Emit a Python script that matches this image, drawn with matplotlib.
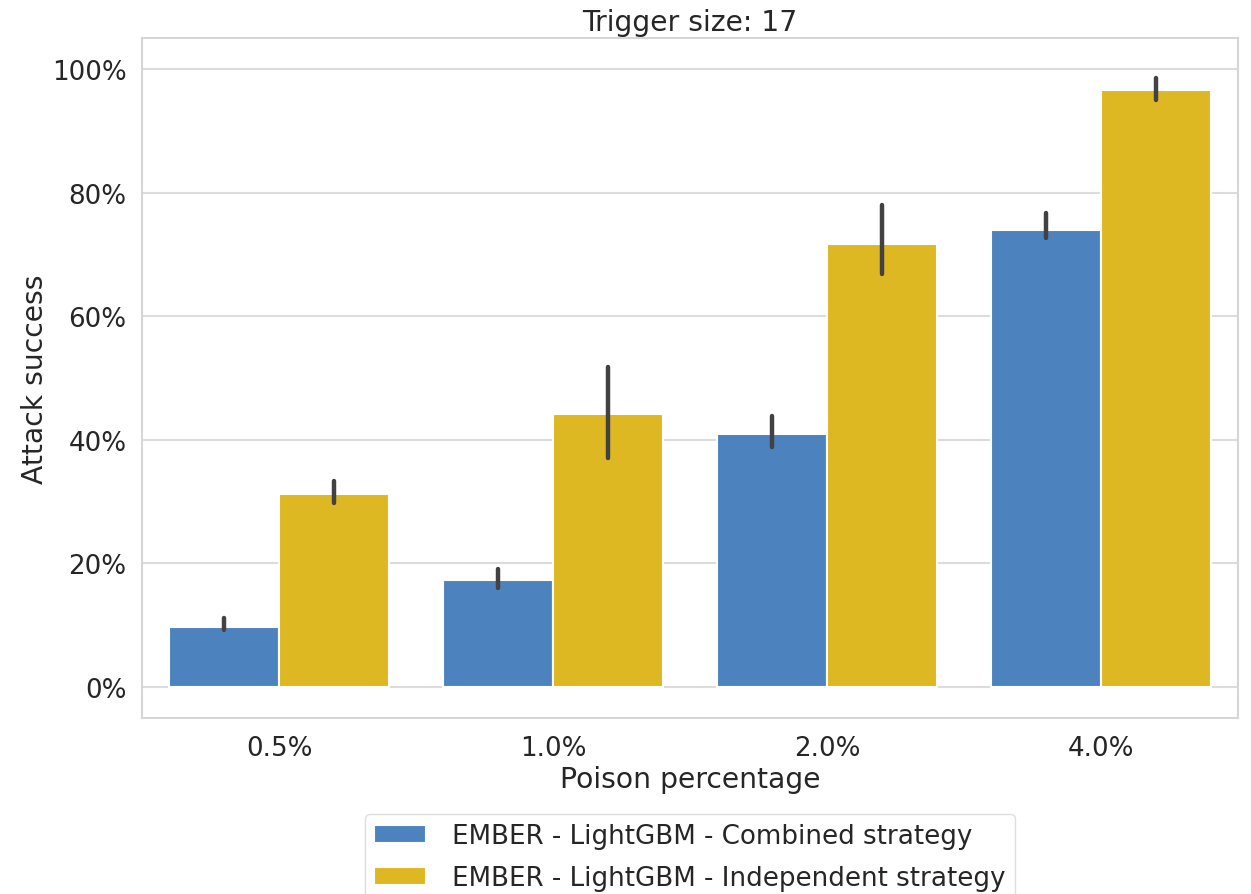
import numpy as np
import matplotlib
matplotlib.use("Agg")
import matplotlib.pyplot as plt
from matplotlib.ticker import PercentFormatter

categories = ["0.5%", "1.0%", "2.0%", "4.0%"]
series_names = ["EMBER - LightGBM - Combined strategy",
                "EMBER - LightGBM - Independent strategy"]
combined = [0.098, 0.173, 0.409, 0.740]
combined_lo = [0.093, 0.160, 0.389, 0.727]
combined_hi = [0.112, 0.191, 0.439, 0.767]
independent = [0.312, 0.441, 0.717, 0.966]
independent_lo = [0.297, 0.370, 0.669, 0.950]
independent_hi = [0.334, 0.517, 0.780, 0.985]
colors = ["#4C83BE", "#DEB822"]

plt.rcParams['font.family'] = ['DejaVu Sans']
text_c = "#262626"

fig = plt.figure(figsize=(12.51, 8.95), dpi=100)
ax = fig.add_axes([142/1251, 1-719/895, (1238-142)/1251, (719-39)/895])

x = np.arange(len(categories))
w = 0.4
vals = [combined, independent]
los = [combined_lo, independent_lo]
his = [combined_hi, independent_hi]
for i, (v, lo, hi) in enumerate(zip(vals, los, his)):
    pos = x + (i - 0.5) * w
    ax.bar(pos, v, width=w, color=colors[i], edgecolor="white", linewidth=1.5,
           label=series_names[i], zorder=2)
    ax.vlines(pos, lo, hi, color="#424242", linewidth=3.2, zorder=3,
              capstyle="round")

ax.set_xlim(-0.5, 3.5)
ax.set_ylim(-0.05, 1.05)
ax.set_yticks([0, 0.2, 0.4, 0.6, 0.8, 1.0])
ax.yaxis.set_major_formatter(PercentFormatter(1.0, decimals=0))
ax.set_xticks(x)
ax.set_xticklabels(categories)
ax.grid(axis="y", color="#dcdcdc", linewidth=1.5, zorder=0)
ax.set_axisbelow(True)
for s in ax.spines.values():
    s.set_color("#d6d6d6")
    s.set_linewidth(1.5)
ax.tick_params(axis="both", length=0, labelsize=18.8, colors=text_c)
ax.tick_params(axis="y", pad=11)
ax.tick_params(axis="x", pad=12)
ax.set_xlabel("Poison percentage", fontsize=20.3, color=text_c, labelpad=3)
ax.set_ylabel("Attack success", fontsize=20.3, color=text_c, labelpad=2)
ax.set_title("Trigger size: 17", fontsize=20.3, color=text_c, pad=6)

leg = fig.legend(loc="upper center", bbox_to_anchor=(690/1251, 1-802/895),
                 fontsize=18.8, frameon=True, handlelength=2.0, handleheight=0.7,
                 borderpad=0.35, labelspacing=0.6, handletextpad=1.0)
leg.get_frame().set_edgecolor("#d6d6d6")
for t in leg.get_texts():
    t.set_color(text_c)

fig.savefig("out.png", dpi=100)
